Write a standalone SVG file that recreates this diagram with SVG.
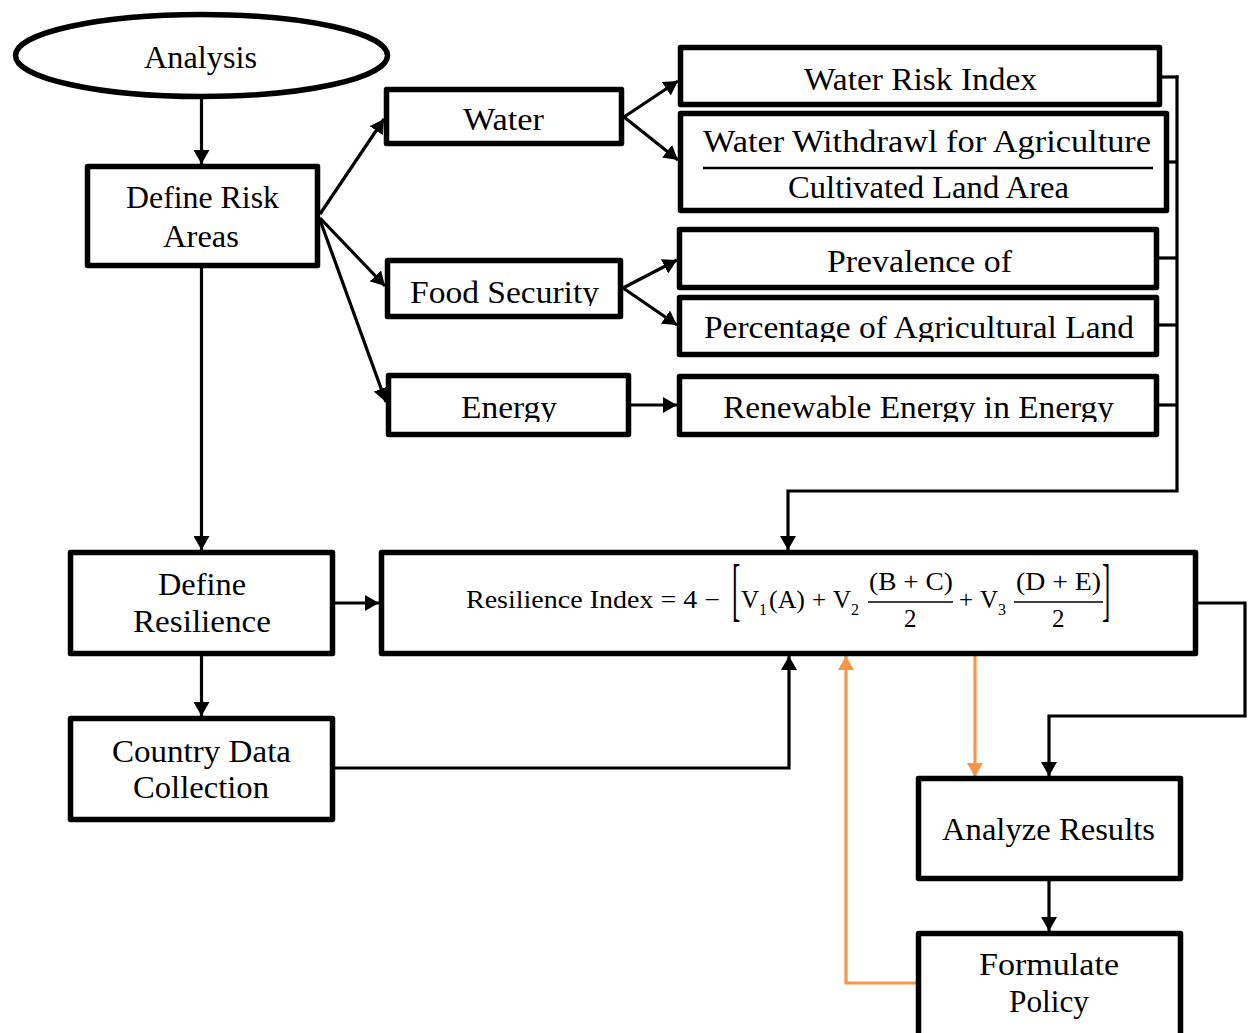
<svg xmlns="http://www.w3.org/2000/svg" width="1248" height="1033" viewBox="0 0 1248 1033">
<style>
.box{fill:#fff;stroke:#000;stroke-width:5.5;stroke-linejoin:round}
.t{font-family:"Liberation Serif","DejaVu Serif",serif;font-size:31px;fill:#000}
.m{font-family:"Liberation Serif","DejaVu Serif",serif;font-size:25px;fill:#000}
.sub{font-size:16px}
.c{fill:none;stroke:#000;stroke-width:3.2}
.o{fill:none;stroke:#F79646;stroke-width:3.2}
</style>
<defs>
<marker id="ah" markerUnits="userSpaceOnUse" markerWidth="15" markerHeight="16" refX="14" refY="8" orient="auto">
<path d="M0,0 L14,8 L0,16 z" fill="#000"/>
</marker>
<marker id="ao" markerUnits="userSpaceOnUse" markerWidth="15" markerHeight="16" refX="14" refY="8" orient="auto">
<path d="M0,0 L14,8 L0,16 z" fill="#F79646"/>
</marker>
<clipPath id="cFood"><rect x="385" y="258" width="240" height="48"/></clipPath>
<clipPath id="cEnergy"><rect x="386" y="373" width="245" height="49"/></clipPath>
<clipPath id="cPerc"><rect x="677" y="295" width="482" height="47"/></clipPath>
<clipPath id="cRenew"><rect x="677" y="374" width="482" height="48"/></clipPath>
</defs>

<g id="connectors">
<line class="c" x1="201.5" y1="97" x2="201.5" y2="164" marker-end="url(#ah)"/>
<line class="c" x1="320" y1="214" x2="384" y2="119" marker-end="url(#ah)"/>
<line class="c" x1="320" y1="218" x2="385" y2="286" marker-end="url(#ah)"/>
<line class="c" x1="320" y1="220" x2="386" y2="402" marker-end="url(#ah)"/>
<line class="c" x1="624" y1="117" x2="678" y2="81" marker-end="url(#ah)"/>
<line class="c" x1="624" y1="117" x2="678" y2="160" marker-end="url(#ah)"/>
<line class="c" x1="623" y1="288" x2="677" y2="260" marker-end="url(#ah)"/>
<line class="c" x1="623" y1="288" x2="677" y2="325" marker-end="url(#ah)"/>
<line class="c" x1="631" y1="405" x2="677" y2="405" marker-end="url(#ah)"/>
<line class="c" x1="1162" y1="77" x2="1178.5" y2="77"/>
<line class="c" x1="1169" y1="162" x2="1177" y2="162"/>
<line class="c" x1="1159" y1="258" x2="1177" y2="258"/>
<line class="c" x1="1159" y1="325" x2="1177" y2="325"/>
<line class="c" x1="1159" y1="405" x2="1177" y2="405"/>
<polyline class="c" points="1177,75.5 1177,491 788,491 788,550" marker-end="url(#ah)"/>
<line class="c" x1="201.5" y1="268" x2="201.5" y2="550" marker-end="url(#ah)"/>
<line class="c" x1="335" y1="603" x2="379" y2="603" marker-end="url(#ah)"/>
<line class="c" x1="201.5" y1="656" x2="201.5" y2="716" marker-end="url(#ah)"/>
<polyline class="c" points="335,768 789,768 789,656" marker-end="url(#ah)"/>
<polyline class="c" points="1198,603 1245,603 1245,716 1049,716 1049,776" marker-end="url(#ah)"/>
<line class="c" x1="1049" y1="881" x2="1049" y2="931" marker-end="url(#ah)"/>
<line class="o" x1="975" y1="656" x2="975" y2="777" marker-end="url(#ao)"/>
<polyline class="o" points="916,983 846,983 846,656" marker-end="url(#ao)"/>
</g>

<g id="analysis">
<ellipse cx="201.5" cy="55.5" rx="186" ry="41" fill="#fff" stroke="#000" stroke-width="5.5"/>
<text class="t" x="144" y="68" textLength="113" lengthAdjust="spacingAndGlyphs">Analysis</text>
</g>

<g id="define-risk">
<rect class="box" x="87.5" y="166.5" width="230" height="99"/>
<text class="t" x="126" y="208" textLength="153" lengthAdjust="spacingAndGlyphs">Define Risk</text>
<text class="t" x="163" y="247" textLength="76" lengthAdjust="spacingAndGlyphs">Areas</text>
</g>

<g id="water">
<rect class="box" x="386.5" y="89.5" width="235" height="54"/>
<text class="t" x="463" y="130" textLength="81" lengthAdjust="spacingAndGlyphs">Water</text>
</g>

<g id="food-security">
<rect class="box" x="387.5" y="260.5" width="233" height="56"/>
<text class="t" x="410" y="303" textLength="189" lengthAdjust="spacingAndGlyphs" clip-path="url(#cFood)">Food Security</text>
</g>

<g id="energy">
<rect class="box" x="388.5" y="375.5" width="240" height="59"/>
<text class="t" x="461" y="418" textLength="96" lengthAdjust="spacingAndGlyphs" clip-path="url(#cEnergy)">Energy</text>
</g>

<g id="water-risk-index">
<rect class="box" x="680.5" y="47.5" width="479" height="57"/>
<text class="t" x="804" y="90" textLength="233" lengthAdjust="spacingAndGlyphs">Water Risk Index</text>
</g>

<g id="water-withdrawal">
<rect class="box" x="680.5" y="113.5" width="486" height="97"/>
<text class="t" x="703" y="152" textLength="448" lengthAdjust="spacingAndGlyphs">Water Withdrawl for Agriculture</text>
<line x1="703" y1="168" x2="1153" y2="168" stroke="#000" stroke-width="2.5"/>
<text class="t" x="788" y="198" textLength="281" lengthAdjust="spacingAndGlyphs">Cultivated Land Area</text>
</g>

<g id="prevalence">
<rect class="box" x="679.5" y="229.5" width="477" height="58"/>
<text class="t" x="827" y="272" textLength="185" lengthAdjust="spacingAndGlyphs">Prevalence of</text>
</g>

<g id="percentage">
<rect class="box" x="679.5" y="297.5" width="477" height="57"/>
<text class="t" x="704" y="338" textLength="430" lengthAdjust="spacingAndGlyphs" clip-path="url(#cPerc)">Percentage of Agricultural Land</text>
</g>

<g id="renewable">
<rect class="box" x="679.5" y="376.5" width="477" height="58"/>
<text class="t" x="723" y="418" textLength="391" lengthAdjust="spacingAndGlyphs" clip-path="url(#cRenew)">Renewable Energy in Energy</text>
</g>

<g id="define-resilience">
<rect class="box" x="70.5" y="552.5" width="262" height="101"/>
<text class="t" x="158" y="595" textLength="88" lengthAdjust="spacingAndGlyphs">Define</text>
<text class="t" x="133" y="632" textLength="138" lengthAdjust="spacingAndGlyphs">Resilience</text>
</g>

<g id="resilience-index">
<rect class="box" x="381.5" y="552.5" width="814" height="101"/>
<text class="m" x="466" y="608" textLength="254" lengthAdjust="spacingAndGlyphs">Resilience Index = 4 −</text>
<text class="m" transform="translate(732,0) scale(1,2.8)" x="0" y="219">[</text>
<text class="m" x="741" y="608">V<tspan class="sub" dy="7">1</tspan></text>
<text class="m" x="769" y="608" textLength="36" lengthAdjust="spacingAndGlyphs">(A)</text>
<text class="m" x="812" y="608">+</text>
<text class="m" x="833" y="608">V<tspan class="sub" dy="7">2</tspan></text>
<text class="m" x="869" y="590" textLength="84" lengthAdjust="spacingAndGlyphs">(B + C)</text>
<line x1="868" y1="602" x2="953" y2="602" stroke="#000" stroke-width="1.5"/>
<text class="m" x="904" y="627">2</text>
<text class="m" x="959" y="608">+</text>
<text class="m" x="980" y="608">V<tspan class="sub" dy="7">3</tspan></text>
<text class="m" x="1016" y="590" textLength="85" lengthAdjust="spacingAndGlyphs">(D + E)</text>
<line x1="1014" y1="602" x2="1103" y2="602" stroke="#000" stroke-width="1.5"/>
<text class="m" x="1052" y="627">2</text>
<text class="m" transform="translate(1102,0) scale(1,2.8)" x="0" y="219">]</text>
</g>

<g id="country-data">
<rect class="box" x="70.5" y="718.5" width="262" height="101"/>
<text class="t" x="112" y="762" textLength="179" lengthAdjust="spacingAndGlyphs">Country Data</text>
<text class="t" x="133" y="798" textLength="136" lengthAdjust="spacingAndGlyphs">Collection</text>
</g>

<g id="analyze-results">
<rect class="box" x="918.5" y="778.5" width="262" height="100"/>
<text class="t" x="942" y="840" textLength="213" lengthAdjust="spacingAndGlyphs">Analyze Results</text>
</g>

<g id="formulate-policy">
<rect class="box" x="918.5" y="933.5" width="262" height="120"/>
<text class="t" x="979" y="975" textLength="140" lengthAdjust="spacingAndGlyphs">Formulate</text>
<text class="t" x="1009" y="1012" textLength="80" lengthAdjust="spacingAndGlyphs">Policy</text>
</g>
</svg>
